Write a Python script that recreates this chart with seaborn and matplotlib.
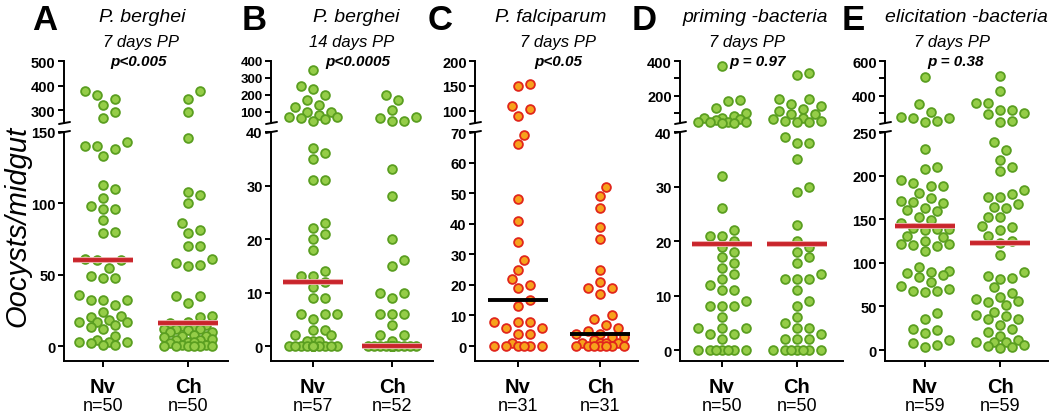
"""
Oocyst counts per midgut, naive (Nv) vs challenged (Ch) mosquitoes.
Five panels, each a broken-axis column scatter with a median bar.
"""
import numpy as np
import matplotlib
matplotlib.use("Agg")
import matplotlib.pyplot as plt
from matplotlib.lines import Line2D
import seaborn as sns

sns.set_style("ticks")
plt.rcParams.update({"font.family": ["Liberation Sans", "DejaVu Sans"],
                     "text.color": "black", "axes.edgecolor": "black",
                     "xtick.color": "black", "ytick.color": "black",
                     "axes.labelcolor": "black"})

W, H = 1050, 414

# ── data ──────────────────────────────────────────────────────────
GROUPS    = ["Nv", "Ch"]
LETTERS   = ["A", "B", "C", "D", "E"]
TITLES    = ["P. berghei", "P. berghei", "P. falciparum", "priming -bacteria", "elicitation -bacteria"]
SUBTITLES = ["7 days PP", "14 days PP", "7 days PP", "7 days PP", "7 days PP"]
PVALUES   = ["p<0.005", "p<0.0005", "p<0.05", "p = 0.97", "p = 0.38"]
N_COUNTS  = [(50, 50), (57, 52), (31, 31), (50, 50), (59, 59)]
MEDIANS   = [(60, 16), (12, 0), (15, 4), (19.5, 19.5), (142.5, 122.5)]

A_NV = [378, 362, 345, 320, 290, 266,
        143, 140, 140, 138, 133, 113, 110, 104, 98, 96, 96, 88, 80, 79,
        61, 60, 60, 55, 49, 48, 48, 36, 32, 32, 32, 29, 24,
        21, 20, 18, 17, 17, 17, 15, 13, 12, 7, 4, 3, 3, 3, 2, 1, 1]
A_CH = [378, 345, 290,
        146, 108, 106, 100, 86, 81, 79, 70, 70, 61, 58, 57, 56, 35, 35, 30, 21, 20, 17,
        16, 15, 14, 13, 12, 12, 12, 11, 10, 10, 8, 7, 7, 6, 5, 4, 4, 3, 3, 2, 1, 1,
        0, 0, 0, 0, 0, 0]
B_NV = [346, 252, 237, 198, 173, 140, 127, 102, 98, 83, 73, 73, 67, 60, 48,
        37, 36, 35, 31, 31, 23, 22, 21, 20, 18, 14, 13, 13, 12, 11, 9, 9, 6, 6, 6, 5,
        3, 3, 2, 2, 1, 1, 1] + [0] * 14
B_CH = [198, 169, 112, 73, 63, 48, 48,
        33, 28, 20, 16, 15, 10, 10, 9, 6, 6, 6, 4, 2, 2, 1] + [0] * 30
C_NV = [153, 149, 110, 103, 90,
        69, 66, 48, 41, 34, 28, 25, 22, 20, 19, 15, 13, 8, 8, 8, 6, 6, 4, 4, 1,
        0, 0, 0, 0, 0, 0]
C_CH = [52, 49, 45, 39, 35, 25, 21, 19, 19, 17, 10, 9, 7, 6,
        5, 4, 4, 3, 3, 2, 1, 1, 1, 1, 0, 0, 0, 0, 0, 0, 0]
D_NV = [371, 175, 171, 130, 105, 86, 76, 76, 67, 61, 53, 50, 49, 48, 47, 45,
        32, 26, 22, 21, 21, 20, 19, 18, 17, 16, 15, 14, 13, 12, 11, 11, 9, 8, 8, 8,
        6, 4, 4, 4, 3, 3, 2, 0, 0, 0, 0, 0, 0, 0]
D_CH = [330, 318, 185, 181, 152, 143, 124, 114, 95, 95, 76, 67, 57, 57, 48, 48,
        39, 38, 38, 35, 30, 29, 23, 20, 19, 18, 17, 16, 14, 13, 13, 13, 11, 9, 8, 6,
        5, 4, 4, 3, 2, 2, 2, 0, 0, 0, 0, 0, 0, 0]
E_NV = [510, 356, 309, 282, 272, 272, 257, 252,
        230, 210, 208, 195, 191, 188, 188, 180, 174, 171, 170, 169, 163, 161, 159, 152, 149, 146,
        140, 139, 139, 138, 131, 130, 125, 122, 121, 120, 119, 114,
        95, 91, 89, 88, 86, 84, 78, 73, 70, 68, 68, 67, 42, 35, 24, 23, 20, 11, 8, 6, 4]
E_CH = [514, 430, 360, 360, 320, 320, 301, 297, 255, 252,
        238, 229, 218, 210, 205, 183, 179, 176, 176, 168, 164, 163, 153, 152,
        142, 141, 138, 131, 125, 123, 109, 90, 85, 83, 82, 72, 65, 61, 59, 56, 55, 52,
        44, 40, 39, 36, 36, 29, 24, 21, 16, 12, 9, 9, 9, 6, 5, 4, 2]
DATA = [(A_NV, A_CH), (B_NV, B_CH), (C_NV, C_CH), (D_NV, D_CH), (E_NV, E_CH)]

TOP_LIM   = [(247, 500), (35, 400), (75, 200), (45, 400), (245, 600)]
BOT_LIM   = [(-10.5, 150), (-2.8, 40), (-4.9, 70), (-2.0, 40), (-12.6, 250)]
TOP_TICKS = [[300, 400, 500], [100, 200, 300, 400], [100, 150, 200],
             [100, 200, 300, 400], [300, 400, 500, 600]]
TOP_TLAB  = [["300", "400", "500"], ["100", "200", "300", "400"], ["100", "150", "200"],
             ["", "200", "", "400"], ["", "400", "", "600"]]
BOT_TICKS = [list(range(0, 151, 50)), list(range(0, 41, 10)), list(range(0, 71, 10)),
             list(range(0, 41, 10)), list(range(0, 251, 50))]

# ── layout (pixels) ───────────────────────────────────────────────
# y-spine, Nv centre, Ch centre, x-axis end
PANEL_PX  = [(64, 103, 188, 228), (271, 313, 392, 433), (475, 518, 600, 638),
             (680, 722, 797, 843), (885, 925, 1000, 1048)]
LETTER_X  = [32, 242, 428, 632, 842]
TITLE_X   = [142, 356, 551, 755, 966]
SUB_X     = [141, 352, 558, 747, 952]
P_X       = [139, 358, 558, 758, 956]
TOP_PX    = (62, 124)
BOT_PX    = (133, 362)

GREEN  = ("#95cd48", "#5a9e20")
ORANGE = ("#f7a21c", "#e1261b")
RED    = "#c9252c"
SPINE_LW = 1.4


def rect(x0, x1, y0, y1):
    return [x0 / W, 1 - y1 / H, (x1 - x0) / W, (y1 - y0) / H]


def swarm_offsets(vals, py, d=10.5, grid=6.0, ncol=4):
    """Greedy swarm on a column grid (px); overflow piles onto the least crowded column."""
    vals = np.asarray(vals, float)
    ypx = vals * py
    cand = np.arange(-ncol, ncol + 1) * grid
    cand = cand[np.argsort(np.abs(cand) + (cand < 0) * 0.1, kind="stable")]
    px, pyl = [], []
    off = np.zeros(len(vals))
    for idx in np.argsort(vals, kind="stable"):
        y = ypx[idx]
        chosen, best_gap, best_c = None, -1.0, 0.0
        for c in cand:
            gap = np.min(np.hypot(np.array(px) - c, np.array(pyl) - y)) if px else np.inf
            if gap >= d:
                chosen = c
                break
            if gap > best_gap:
                best_gap, best_c = gap, c
        if chosen is None:
            chosen = best_c
        off[idx] = chosen
        px.append(chosen)
        pyl.append(y)
    return off


fig = plt.figure(figsize=(W / 100, H / 100), dpi=100)

for p in range(5):
    x0, xn, xc, x1 = PANEL_PX[p]
    unit = xc - xn
    xlim = ((x0 - xn) / unit, 1 + (x1 - xc) / unit)
    face, edge = ORANGE if p == 2 else GREEN
    mcol = "black" if p == 2 else RED

    ax_t = fig.add_axes(rect(x0, x1, *TOP_PX))
    ax_b = fig.add_axes(rect(x0, x1, *BOT_PX))
    py_t = (TOP_PX[1] - TOP_PX[0]) / (TOP_LIM[p][1] - TOP_LIM[p][0])
    py_b = (BOT_PX[1] - BOT_PX[0]) / (BOT_LIM[p][1] - BOT_LIM[p][0])

    for g, vals in enumerate(DATA[p]):
        vals = np.asarray(vals, float)
        hi = vals > BOT_LIM[p][1]
        for ax, sel, py in [(ax_t, hi, py_t), (ax_b, ~hi, py_b)]:
            v = vals[sel]
            if len(v) == 0:
                continue
            xs = g + swarm_offsets(v, py) / unit
            sns.scatterplot(x=xs, y=v, ax=ax, s=40, color=face, edgecolor=edge,
                            linewidth=1.3, clip_on=False, zorder=3, legend=False)
        m = MEDIANS[p][g]
        hw = 30 / unit
        if p != 2:
            ax_b.hlines(m, g - hw, g + hw, color="#eeaaaa", lw=4.2, zorder=4)
        ax_b.hlines(m, g - hw, g + hw, color=mcol, lw=2.8, zorder=5)

    for ax, lim in [(ax_t, TOP_LIM[p]), (ax_b, BOT_LIM[p])]:
        ax.set_xlim(*xlim)
        ax.set_ylim(*lim)
        ax.set_xlabel("")
        ax.set_ylabel("")
        for s in ["top", "right"]:
            ax.spines[s].set_visible(False)
        for s in ["left", "bottom"]:
            ax.spines[s].set_linewidth(SPINE_LW)
        ax.tick_params(axis="both", direction="out", length=4, width=SPINE_LW, pad=2)
        ax.patch.set_alpha(0)

    ax_t.spines["bottom"].set_visible(False)
    ax_t.set_xticks([])
    ax_t.set_yticks(TOP_TICKS[p])
    ax_t.set_yticklabels(TOP_TLAB[p], fontsize=9.5 if p == 1 else 10.5, fontweight="bold")

    ax_b.set_yticks(BOT_TICKS[p])
    ax_b.set_yticklabels([str(t) for t in BOT_TICKS[p]], fontsize=10.5, fontweight="bold")
    ax_b.set_xticks([0, 1])
    ax_b.set_xticklabels(["", ""])
    for g, name in enumerate(GROUPS):
        ax_b.annotate(name, xy=(g, 0), xycoords=("data", "axes fraction"),
                      xytext=(0, -31 * 0.72), textcoords="offset points",
                      ha="center", va="baseline", fontsize=14.5, fontweight="bold")
        ax_b.annotate(f"n={N_COUNTS[p][g]}", xy=(g, 0), xycoords=("data", "axes fraction"),
                      xytext=(0, -49.5 * 0.72), textcoords="offset points",
                      ha="center", va="baseline", fontsize=13)

    # axis break marks
    for yb in (TOP_PX[1], BOT_PX[0]):
        fig.add_artist(Line2D([(x0 - 5) / W, (x0 + 6) / W],
                              [1 - (yb + 1) / H, 1 - (yb - 1) / H],
                              transform=fig.transFigure, color="black", lw=SPINE_LW))

    fig.text(LETTER_X[p] / W, 1 - 30 / H, LETTERS[p], fontsize=25, fontweight="bold",
             ha="left", va="baseline")
    fig.text(TITLE_X[p] / W, 1 - 22.5 / H, TITLES[p], fontsize=14, style="italic",
             ha="center", va="baseline")
    fig.text(SUB_X[p] / W, 1 - 46.5 / H, SUBTITLES[p], fontsize=12, style="italic",
             ha="center", va="baseline")
    fig.text(P_X[p] / W, 1 - 66 / H, PVALUES[p], fontsize=11, style="italic",
             fontweight="bold", ha="center", va="baseline")

fig.text(17 / W, 1 - 226 / H, "Oocysts/midgut", rotation=90, fontsize=21,
         style="italic", ha="center", va="center")

fig.savefig("out.png", dpi=100)
